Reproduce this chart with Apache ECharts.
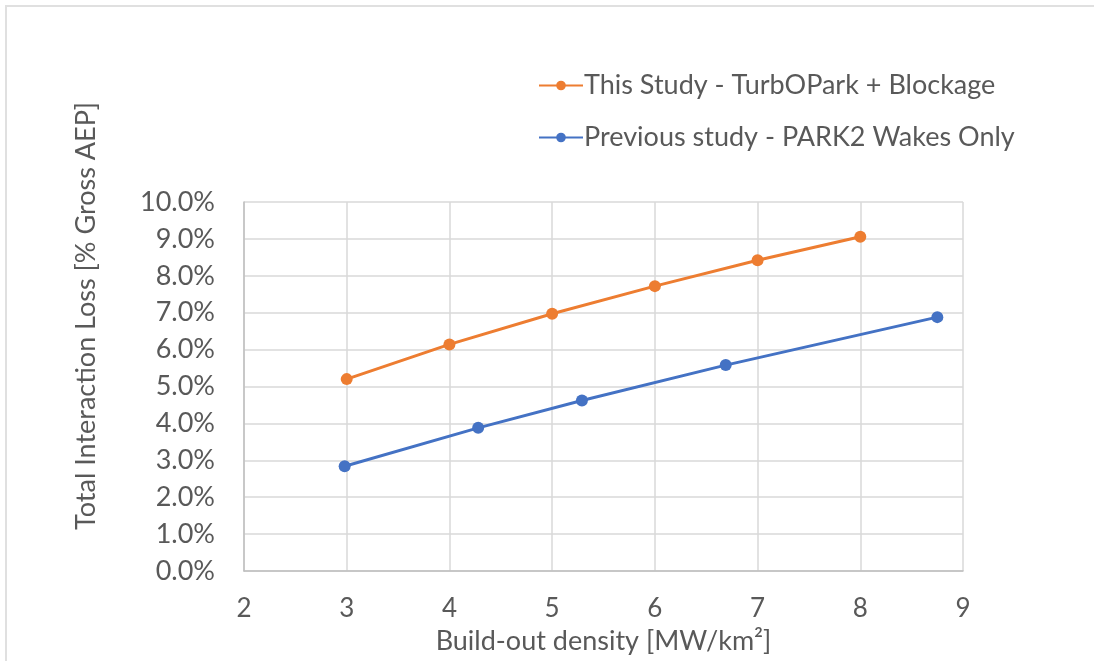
<!DOCTYPE html>
<html>
<head>
<meta charset="utf-8">
<script src="https://cdn.jsdelivr.net/npm/echarts@6/dist/echarts.min.js"></script>
<style>
  html, body { margin: 0; padding: 0; background: #fff; }
  #chart { width: 1094px; height: 661px; }
</style>
</head>
<body>
<div id="chart"></div>
<script>
// series data (x = MW/km2, y = % of gross AEP)
const seriesNames = ['This Study - TurbOPark + Blockage', 'Previous study - PARK2 Wakes Only']
const thisStudyX = [3, 4, 5, 6, 7, 8]
const thisStudyY = [5.20, 6.14, 6.97, 7.72, 8.42, 9.06]
const prevStudyX = [2.98, 4.28, 5.29, 6.69, 8.75]
const prevStudyY = [2.84, 3.88, 4.62, 5.58, 6.88]

const xTitle = 'Build-out density [MW/km²]'
const yTitle = 'Total Interaction Loss [% Gross AEP]'

const textColor = '#595959'
const font = 'Lato'

const pairs = (xs, ys) => xs.map((x, i) => [x, ys[i]])

const myChart = echarts.init(document.getElementById('chart'), null, { renderer: 'canvas' })

const option = {
  animation: false,
  backgroundColor: '#fff',
  textStyle: { fontFamily: font },
  grid: {
    left: 244,
    right: 131,
    top: 202,
    bottom: 90,
  },
  legend: {
    orient: 'vertical',
    left: 533,
    top: 67,
    itemGap: 25,
    itemWidth: 44,
    itemHeight: 12,
    textStyle: {
      fontFamily: font,
      fontSize: 27,
      color: textColor,
      padding: [0, 0, 0, -4],
    },
    data: seriesNames,
  },
  xAxis: {
    type: 'value',
    min: 2,
    max: 9,
    interval: 1,
    name: xTitle,
    nameLocation: 'middle',
    nameGap: 57,
    nameTextStyle: { fontSize: 27, color: textColor, fontFamily: font },
    axisLine: { show: true, lineStyle: { color: '#BFBFBF', width: 1.5 } },
    axisTick: { show: false },
    axisLabel: { fontSize: 26, color: textColor, margin: 25, fontFamily: font },
    splitLine: { show: true, lineStyle: { color: '#D9D9D9', width: 1.5 } },
  },
  yAxis: {
    type: 'value',
    min: 0,
    max: 10,
    interval: 1,
    axisLine: { show: true, lineStyle: { color: '#BFBFBF', width: 1.5 } },
    axisTick: { show: false },
    axisLabel: {
      fontSize: 27,
      color: textColor,
      margin: 29,
      fontFamily: font,
      formatter: (v) => v.toFixed(1) + '%',
    },
    splitLine: { show: true, lineStyle: { color: '#D9D9D9', width: 1.5 } },
  },
  graphic: [
    {
      // outer chart-area border (only top/left visible in the crop)
      type: 'rect',
      shape: { x: 6, y: 6, width: 1200, height: 800 },
      style: { fill: 'none', stroke: '#E0E0E0', lineWidth: 2 },
      silent: true,
    },
    {
      type: 'text',
      x: 86,
      y: 316,
      rotation: Math.PI / 2,
      style: {
        text: yTitle,
        fontFamily: font,
        fontSize: 27,
        fill: textColor,
        align: 'center',
        verticalAlign: 'middle',
      },
    },
  ],
  series: [
    {
      name: seriesNames[0],
      type: 'line',
      data: pairs(thisStudyX, thisStudyY),
      color: '#ED7D31',
      symbol: 'circle',
      symbolSize: 12,
      lineStyle: { width: 3 },
    },
    {
      name: seriesNames[1],
      type: 'line',
      data: pairs(prevStudyX, prevStudyY),
      color: '#4472C4',
      symbol: 'circle',
      symbolSize: 12,
      lineStyle: { width: 3 },
    },
  ],
}

myChart.setOption(option)
</script>
</body>
</html>
